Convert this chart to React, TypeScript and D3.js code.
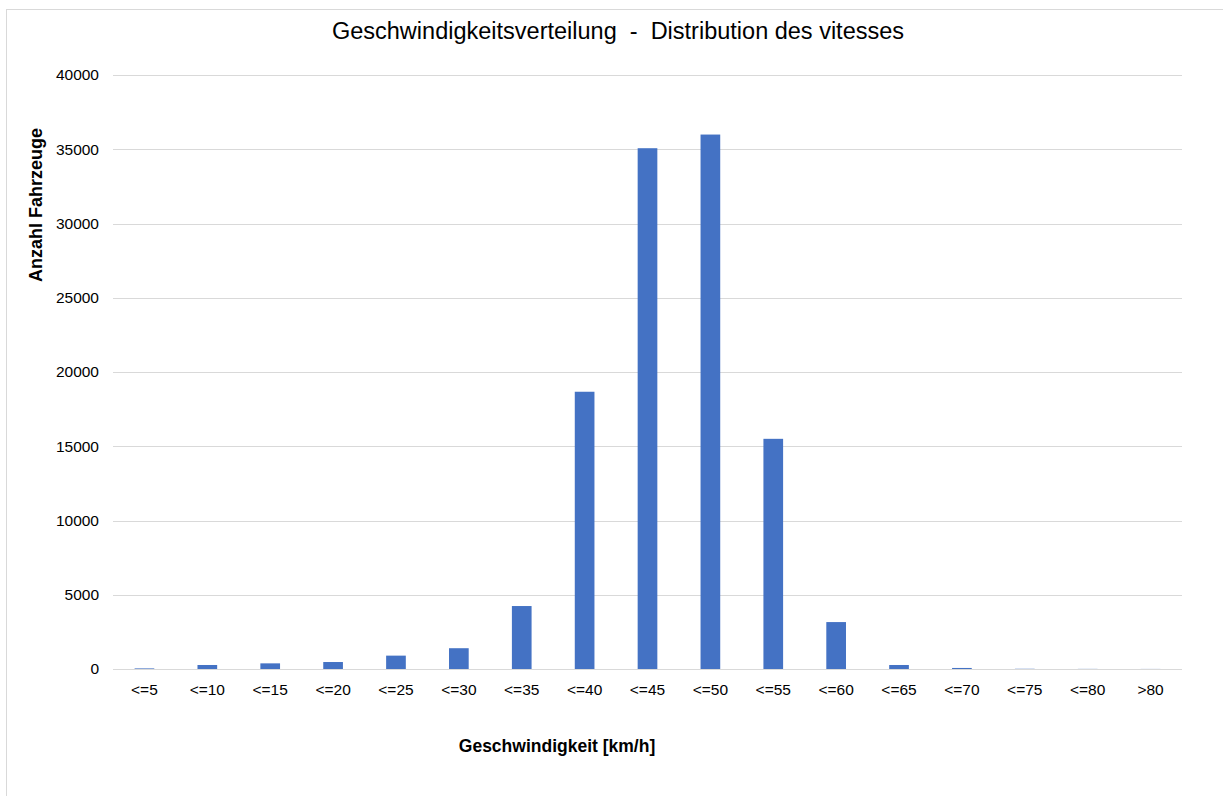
import React from "react";
import * as d3 from "d3";

const categories = ["<=5", "<=10", "<=15", "<=20", "<=25", "<=30", "<=35", "<=40", "<=45", "<=50", "<=55", "<=60", "<=65", "<=70", "<=75", "<=80", ">80"];
const counts = [40, 270, 380, 470, 900, 1400, 4240, 18670, 35070, 35990, 15500, 3160, 270, 70, 15, 8, 5];
const yTicks = [0, 5000, 10000, 15000, 20000, 25000, 30000, 35000, 40000];

const W = 1223;
const H = 796;
const plot = { left: 113, right: 1182, top: 75, bottom: 669 };
const FONT = "'Liberation Sans', Arial, sans-serif";

export default function App() {
  const x = d3
    .scaleBand<string>()
    .domain(categories)
    .range([plot.left, plot.right])
    .paddingInner(0.687)
    .paddingOuter(0.3435);
  const y = d3.scaleLinear().domain([0, 40000]).range([plot.bottom, plot.top]);

  return (
    <svg
      width={W}
      height={H}
      style={{ position: "absolute", left: 0, top: 0, background: "#fff" }}
      fontFamily={FONT}
    >
      <rect x={6.5} y={9.5} width={W + 20} height={H + 20} fill="#fff" stroke="#d9d9d9" strokeWidth={1} />
      <text x={618} y={39} textAnchor="middle" fontSize={23.5} fill="#000" style={{ whiteSpace: "pre" }}>
        {"Geschwindigkeitsverteilung  -  Distribution des vitesses"}
      </text>
      {yTicks.map((t) => (
        <g key={t}>
          <line x1={plot.left} x2={plot.right} y1={Math.round(y(t)) + 0.5} y2={Math.round(y(t)) + 0.5} stroke="#d9d9d9" strokeWidth={1} />
          <text x={99} y={y(t)} dy="0.35em" textAnchor="end" fontSize={15.5} fill="#000">
            {t}
          </text>
        </g>
      ))}
      {categories.map((c, i) => (
        <rect
          key={c}
          x={x(c)!}
          y={y(counts[i])}
          width={x.bandwidth()}
          height={y(0) - y(counts[i])}
          fill="#4472C4"
        />
      ))}
      {categories.map((c) => (
        <text key={c} x={x(c)! + x.bandwidth() / 2} y={695} textAnchor="middle" fontSize={15.5} fill="#000">
          {c}
        </text>
      ))}
      <text x={557} y={752} textAnchor="middle" fontSize={17.5} fontWeight="bold" fill="#000">
        Geschwindigkeit [km/h]
      </text>
      <text
        transform={`translate(42,205) rotate(-90)`}
        textAnchor="middle"
        fontSize={18}
        fontWeight="bold"
        fill="#000"
      >
        Anzahl Fahrzeuge
      </text>
    </svg>
  );
}
